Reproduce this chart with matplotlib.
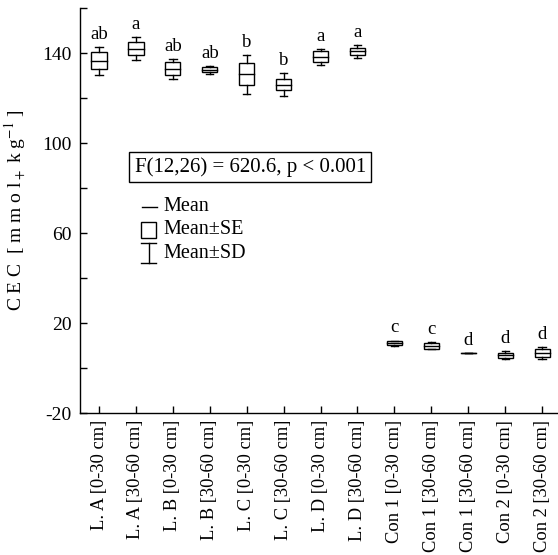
import matplotlib
matplotlib.use("Agg")
import matplotlib.pyplot as plt
from matplotlib.patches import Rectangle
from matplotlib.ticker import MultipleLocator

plt.rcParams['font.family'] = ['Liberation Serif', 'DejaVu Serif']
plt.rcParams['mathtext.fontset'] = 'stix'
plt.rcParams['axes.unicode_minus'] = False

categories = ["L. A [0-30 cm]", "L. A [30-60 cm]", "L. B [0-30 cm]", "L. B [30-60 cm]",
              "L. C [0-30 cm]", "L. C [30-60 cm]", "L. D [0-30 cm]", "L. D [30-60 cm]",
              "Con 1 [0-30 cm]", "Con 1 [30-60 cm]", "Con 1 [30-60 cm]", "Con 2 [0-30 cm]",
              "Con 2 [30-60 cm]"]
means = [136.6, 142.0, 133.0, 132.5, 130.6, 126.0, 138.3, 140.7, 11.1, 9.9, 6.6, 5.6, 6.6]
se = [3.7, 3.0, 2.8, 1.1, 4.9, 2.6, 2.4, 1.5, 1.0, 1.4, 0.0, 1.2, 1.8]
sd = [6.2, 5.0, 4.4, 1.8, 8.7, 5.1, 3.6, 2.7, 1.1, 1.6, 0.0, 1.8, 2.7]
letters = ["ab", "a", "ab", "ab", "b", "b", "a", "a", "c", "c", "d", "d", "d"]
stat_text = "F(12,26) = 620.6, p < 0.001"

fig = plt.figure(figsize=(5.58, 5.55), dpi=100)
W, H = 558, 555
x0, x1, ytop, ybot = 80, 558, 8, 413
ax = fig.add_axes([x0 / W, (H - ybot) / H, (x1 - x0) / W, (ybot - ytop) / H])

bw = 0.41
cw = 0.2
lw = 1.0
for i, (m, s, d) in enumerate(zip(means, se, sd)):
    # whiskers
    ax.plot([i, i], [m + s, m + d], color='black', lw=lw)
    ax.plot([i, i], [m - d, m - s], color='black', lw=lw)
    ax.plot([i - cw / 2, i + cw / 2], [m + d, m + d], color='black', lw=lw)
    ax.plot([i - cw / 2, i + cw / 2], [m - d, m - d], color='black', lw=lw)
    # box
    ax.add_patch(Rectangle((i - bw / 2, m - s), bw, 2 * s, fill=False, edgecolor='black', lw=lw))
    # mean line
    ax.plot([i - bw / 2, i + bw / 2], [m, m], color='black', lw=lw)
    ax.text(i, m + d + 1.8, letters[i], ha='center', va='bottom', fontsize=13.5)

ax.set_xlim(-0.515, 12.43)
ax.set_ylim(-20, 160)
ax.set_xticks(range(len(categories)))
ax.set_xticklabels(categories, rotation=90, fontsize=13.3)
ax.set_yticks([-20, 20, 60, 100, 140])
ax.yaxis.set_minor_locator(MultipleLocator(20))
ax.tick_params(axis='both', which='both', direction='in', length=5, width=1)
ax.tick_params(axis='y', which='major', labelsize=14, pad=6)
ax.tick_params(axis='x', pad=5)
for sp in ['top', 'right']:
    ax.spines[sp].set_visible(False)
for sp in ['left', 'bottom']:
    ax.spines[sp].set_linewidth(1)

ax.set_ylabel(r"C E C  [ m m o l$_+$ k g$^{-1}$ ]", fontsize=14, labelpad=10)

# stat box
ax.text(0.356, 0.607, stat_text, transform=ax.transAxes, ha='center', va='center', fontsize=15,
        bbox=dict(boxstyle='square,pad=0.25', fc='white', ec='black', lw=1))

# legend (manual)
tr = ax.transAxes
ax.plot([0.130, 0.161], [0.509, 0.509], color='black', lw=lw, transform=tr)
ax.add_patch(Rectangle((0.128, 0.432), 0.031, 0.040, fill=False, ec='black', lw=lw, transform=tr))
ax.plot([0.1435, 0.1435], [0.370, 0.420], color='black', lw=lw, transform=tr)
ax.plot([0.128, 0.159], [0.370, 0.370], color='black', lw=lw, transform=tr)
ax.plot([0.128, 0.159], [0.420, 0.420], color='black', lw=lw, transform=tr)
for yy, t in zip([0.509, 0.452, 0.395], ["Mean", "Mean±SE", "Mean±SD"]):
    ax.text(0.174, yy, t, transform=tr, ha='left', va='center', fontsize=14.5)

fig.savefig("out.png", dpi=100)
